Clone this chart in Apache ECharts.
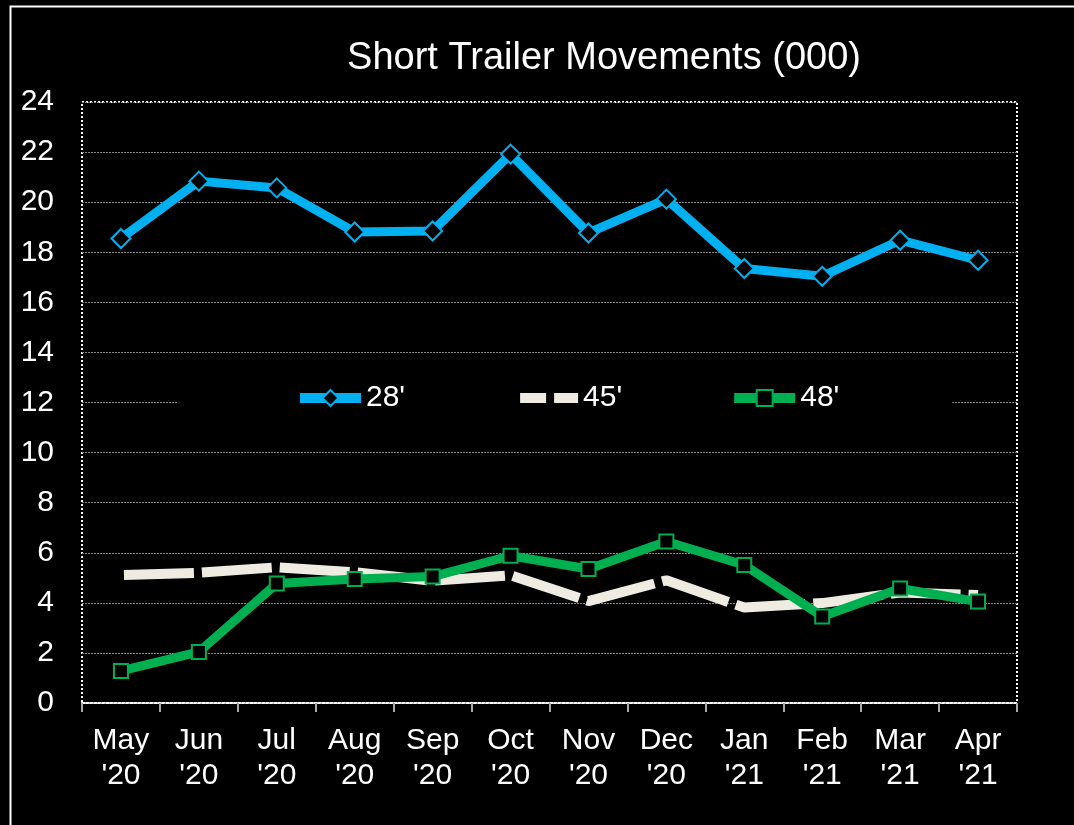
<!DOCTYPE html>
<html>
<head>
<meta charset="utf-8">
<script src="https://cdn.jsdelivr.net/npm/echarts@6/dist/echarts.min.js"></script>
<style>
  html, body { margin: 0; padding: 0; background: #000; }
  #chart { width: 1074px; height: 825px; }
</style>
</head>
<body>
<div id="chart"></div>
<script>
// months along the x axis
const months = ['May', 'Jun', 'Jul', 'Aug', 'Sep', 'Oct', 'Nov', 'Dec', 'Jan', 'Feb', 'Mar', 'Apr']
const years = ["'20", "'20", "'20", "'20", "'20", "'20", "'20", "'20", "'21", "'21", "'21", "'21"]
const yTicks = [0, 2, 4, 6, 8, 10, 12, 14, 16, 18, 20, 22, 24]

// movements in thousands
const t28 = [18.55, 20.84, 20.57, 18.81, 18.85, 21.92, 18.77, 20.12, 17.35, 17.04, 18.48, 17.68]
const t45 = [5.11, 5.2, 5.42, 5.22, 4.88, 5.1, 4.07, 4.9, 3.81, 3.99, 4.41, 4.31]
const t48 = [1.28, 2.04, 4.77, 4.95, 5.05, 5.88, 5.35, 6.45, 5.51, 3.45, 4.57, 4.05]

const FONT = '"Liberation Sans", Arial, sans-serif'
const BLUE = '#00B0F0'
const BEIGE = '#EEECE1'
const GREEN = '#00B050'

const chart = echarts.init(document.getElementById('chart'))

const option = {
  backgroundColor: '#000',
  animation: false,
  textStyle: { fontFamily: FONT },
  title: {
    text: 'Short Trailer Movements (000)',
    left: 599,
    textAlign: 'center',
    top: 35,
    textStyle: { color: '#fff', fontSize: 38, fontWeight: 'normal', fontFamily: FONT }
  },
  graphic: [
    {
      type: 'rect',
      left: 8,
      top: 4,
      shape: { width: 1100, height: 900 },
      style: { fill: 'none', stroke: '#fff', lineWidth: 2 },
      silent: true
    }
  ],
  legend: {
    left: 178,
    top: 373,
    padding: [10, 113, 10, 117],
    backgroundColor: '#000',
    itemWidth: 61,
    itemHeight: 20,
    itemGap: 107,
    textStyle: { color: '#fff', fontSize: 30, fontFamily: FONT },
    data: [
      { name: "28'", lineStyle: { width: 10 }, itemStyle: { borderWidth: 2 } },
      { name: "45'", lineStyle: { width: 10, type: [26, 8] }, itemStyle: { opacity: 0 } },
      { name: "48'", lineStyle: { width: 10 }, itemStyle: { borderWidth: 2 } }
    ]
  },
  grid: {
    left: 82,
    right: 57,
    top: 102,
    bottom: 122,
    show: true,
    borderColor: '#fff',
    borderWidth: 2,
    borderType: 'dotted'
  },
  xAxis: {
    type: 'category',
    data: months.map((m, i) => m + '\n' + years[i]),
    boundaryGap: true,
    axisLine: { lineStyle: { color: '#fff', width: 2, type: 'dotted' } },
    axisTick: { show: true, length: 9, lineStyle: { color: '#aaa', width: 2 } },
    axisLabel: { color: '#fff', fontSize: 30, lineHeight: 35, margin: 20, fontFamily: FONT, interval: 0 }
  },
  yAxis: {
    type: 'value',
    min: yTicks[0],
    max: yTicks[yTicks.length - 1],
    interval: yTicks[1] - yTicks[0],
    axisLine: { show: false },
    axisTick: { show: false },
    axisLabel: { color: '#fff', fontSize: 30, margin: 28, fontFamily: FONT },
    splitLine: { lineStyle: { color: '#888', width: 1, type: [2, 1] } }
  },
  series: [
    {
      name: "28'",
      type: 'line',
      data: t28,
      symbol: 'diamond',
      symbolSize: 19,
      color: BLUE,
      lineStyle: { color: BLUE, width: 9 },
      itemStyle: { color: '#000', borderColor: BLUE, borderWidth: 2 },
      z: 3
    },
    {
      name: "45'",
      type: 'line',
      data: t45,
      symbol: 'none',
      color: BEIGE,
      lineStyle: { color: BEIGE, width: 10, type: [70, 8], dashOffset: -3 },
      itemStyle: { color: BEIGE },
      z: 2
    },
    {
      name: "48'",
      type: 'line',
      data: t48,
      symbol: 'rect',
      symbolSize: 14,
      color: GREEN,
      lineStyle: { color: GREEN, width: 9 },
      itemStyle: { color: '#000', borderColor: GREEN, borderWidth: 2 },
      z: 4
    }
  ]
}

chart.setOption(option)
</script>
</body>
</html>
